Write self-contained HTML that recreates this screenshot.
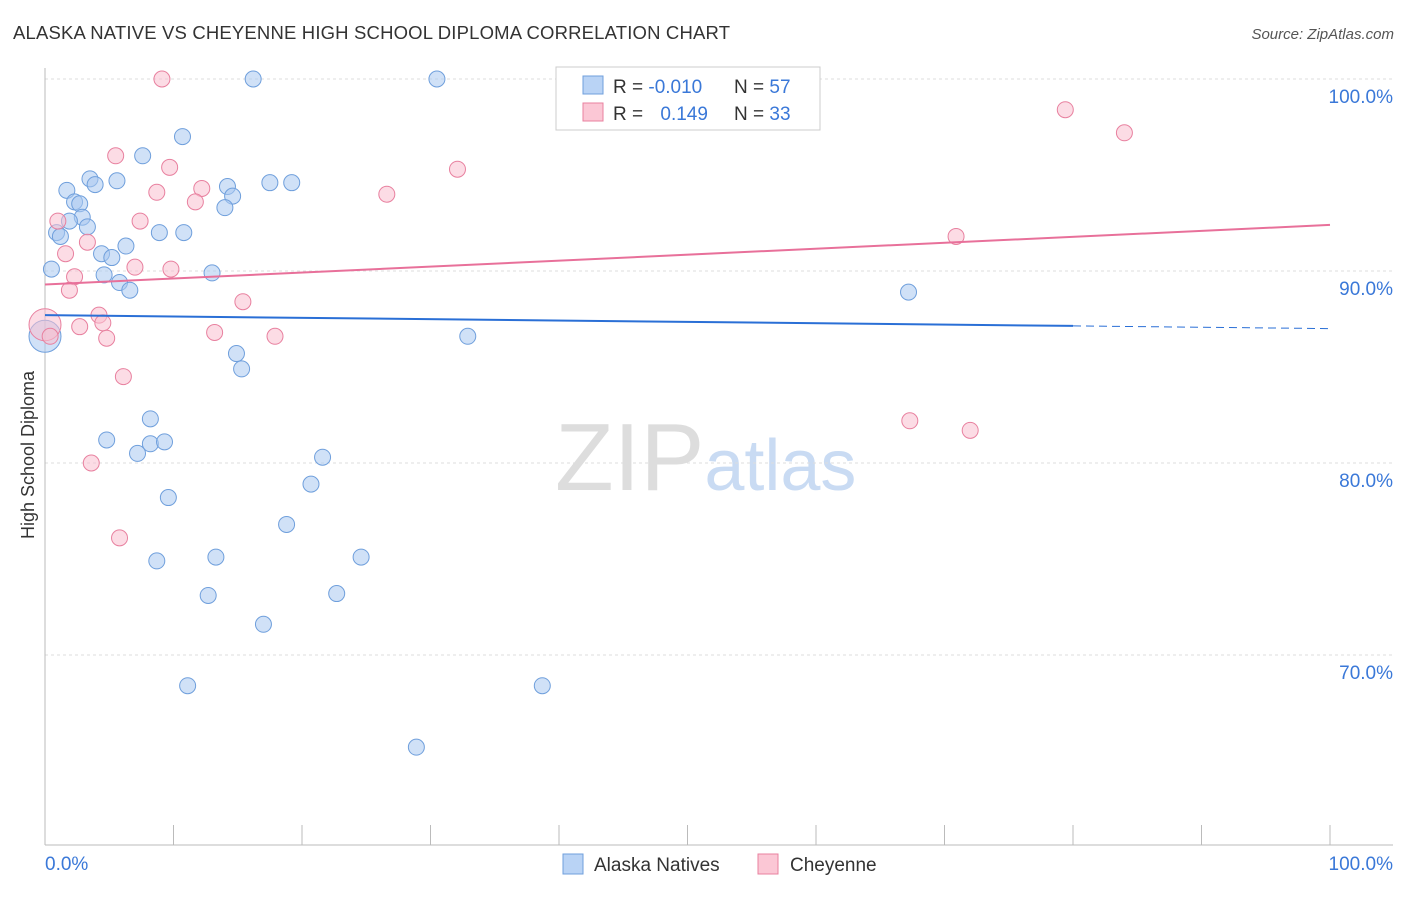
<!DOCTYPE html>
<html><head><meta charset="utf-8"><style>
body{margin:0;background:#fff;font-family:"Liberation Sans",sans-serif}
svg text{font-family:"Liberation Sans",sans-serif}
</style></head><body>
<svg id="chart" width="1406" height="892" xmlns="http://www.w3.org/2000/svg">
<text x="13" y="39" font-size="18.5" fill="#333" textLength="717">ALASKA NATIVE VS CHEYENNE HIGH SCHOOL DIPLOMA CORRELATION CHART</text>
<text x="1394" y="39" font-size="15" fill="#555" text-anchor="end" font-style="italic">Source: ZipAtlas.com</text>
<text x="555" y="490" font-size="96" fill="#ddd" font-family="Liberation Serif">ZIP<tspan fill="#c9dbf3" font-family="Liberation Sans" font-size="72">atlas</tspan></text>
<text transform="translate(34,455) rotate(-90)" font-size="18" fill="#333" text-anchor="middle">High School Diploma</text>
<g id="grid"></g><g id="axes"></g><g id="pts"></g><g id="lines"></g>
<g>
<rect x="556" y="67" width="264" height="63" fill="#fff" stroke="#ccc"/>
<rect x="583" y="76" width="20" height="18" fill="#b9d3f5" stroke="#6f9fdc"/>
<rect x="583" y="103" width="20" height="18" fill="#fbc7d5" stroke="#e8809f"/>
<text x="613" y="93" font-size="19" fill="#333">R = <tspan fill="#3a78d8">-0.010</tspan></text>
<text x="734" y="93" font-size="19" fill="#333">N = <tspan fill="#3a78d8">57</tspan></text>
<text x="613" y="120" font-size="19" fill="#333">R = <tspan fill="#3a78d8" dx="12">0.149</tspan></text>
<text x="734" y="120" font-size="19" fill="#333">N = <tspan fill="#3a78d8">33</tspan></text>
</g>
<g>
<rect x="563" y="854" width="20" height="20" fill="#b9d3f5" stroke="#6f9fdc"/>
<text x="594" y="871" font-size="19" fill="#333">Alaska Natives</text>
<rect x="758" y="854" width="20" height="20" fill="#fbc7d5" stroke="#e8809f"/>
<text x="790" y="871" font-size="19" fill="#333">Cheyenne</text>
</g>
</svg>
<script>
const yTicks=[100,90,80,70];
const yTickLabels=["100.0%","90.0%","80.0%","70.0%"];
const xLabels=["0.0%","100.0%"];
const blueX=[16.2,30.5,41.4,46.1,10.7,7.6,3.5,5.6,3.9,1.7,14.2,17.5,19.2,14.6,2.3,2.7,2.9,1.9,3.3,14.0,0.9,1.2,8.9,10.8,6.3,4.4,5.2,0.5,4.6,13.0,5.8,6.6,67.2,0.0,32.9,14.9,15.3,8.2,4.8,8.2,9.3,7.2,21.6,20.7,9.6,18.8,13.3,8.7,24.6,22.7,12.7,17.0,11.1,38.7,28.9];
const blueY=[100,100,100,100,97.0,96.0,94.8,94.7,94.5,94.2,94.4,94.6,94.6,93.9,93.6,93.5,92.8,92.6,92.3,93.3,92.0,91.8,92.0,92.0,91.3,90.9,90.7,90.1,89.8,89.9,89.4,89.0,88.9,86.6,86.6,85.7,84.9,82.3,81.2,81.0,81.1,80.5,80.3,78.9,78.2,76.8,75.1,74.9,75.1,73.2,73.1,71.6,68.4,68.4,65.2];
const pinkX=[9.1,79.4,84.0,5.5,9.7,32.1,8.7,12.2,11.7,26.6,7.4,1.0,3.3,1.6,2.3,7.0,9.8,70.9,1.9,15.4,4.2,4.5,2.7,0,0.4,4.8,13.2,17.9,6.1,67.3,72.0,3.6,5.8];
const pinkY=[100,98.4,97.2,96.0,95.4,95.3,94.1,94.3,93.6,94.0,92.6,92.6,91.5,90.9,89.7,90.2,90.1,91.8,89.0,88.4,87.7,87.3,87.1,87.2,86.6,86.5,86.8,86.6,84.5,82.2,81.7,80.0,76.1];
const blueTrend=[87.7,87.0];
const pinkTrend=[89.3,92.4];
const X=v=>45+v*12.85, Y=v=>79+(100-v)*19.2;
const NS="http://www.w3.org/2000/svg";
function mk(p,t,a){const e=document.createElementNS(NS,t);for(const k in a)e.setAttribute(k,a[k]);p.appendChild(e);return e;}
const grid=document.getElementById('grid'),axes=document.getElementById('axes'),pts=document.getElementById('pts'),lines=document.getElementById('lines');
yTicks.forEach((t,i)=>{const g=mk(grid,'line',{x1:45,x2:1393,y1:Y(t),y2:Y(t),stroke:'#ddd','stroke-dasharray':'3,3'});


const tx=mk(axes,'text',{x:1393,y:Y(t)+24,'font-size':19,fill:'#3a78d8','text-anchor':'end'});tx.textContent=yTickLabels[i];

});
let a=mk(axes,'line',{x1:45,x2:1393,y1:845,y2:845,stroke:'#bbb'});


a=mk(axes,'line',{x1:45,x2:45,y1:68,y2:845,stroke:'#bbb'});


for(let i=0;i<=10;i++){const t=mk(axes,'line',{x1:X(i*10),x2:X(i*10),y1:825,y2:845,stroke:'#bbb'});

}
[[0,'start',45],[100,'end',1393]].forEach((d,i)=>{const t=mk(axes,'text',{x:d[2],y:870,'font-size':19,fill:'#3a78d8','text-anchor':d[1]});t.textContent=xLabels[i];

});
function dots(xs,ys,fill,stroke,name){xs.forEach((x,i)=>{const big=x===0;const c=mk(pts,'circle',{cx:X(x),cy:Y(ys[i]),r:big?16:8,fill:fill,'fill-opacity':0.55,stroke:stroke,'stroke-width':1});

});}
dots(blueX,blueY,'#a9c8f0','#6f9fdc','alaska-native-point');
dots(pinkX,pinkY,'#f9bfd0','#e8809f','cheyenne-point');
const bx=80,byE=blueTrend[0]+(blueTrend[1]-blueTrend[0])*bx/100;
let l=mk(lines,'line',{x1:X(0),y1:Y(blueTrend[0]),x2:X(bx),y2:Y(byE),stroke:'#2a6fd6','stroke-width':2});


l=mk(lines,'line',{x1:X(bx),y1:Y(byE),x2:X(100),y2:Y(blueTrend[1]),stroke:'#2a6fd6','stroke-width':1,'stroke-dasharray':'8,5'});


l=mk(lines,'line',{x1:X(0),y1:Y(pinkTrend[0]),x2:X(100),y2:Y(pinkTrend[1]),stroke:'#e8709a','stroke-width':2});


</script>
</body></html>
